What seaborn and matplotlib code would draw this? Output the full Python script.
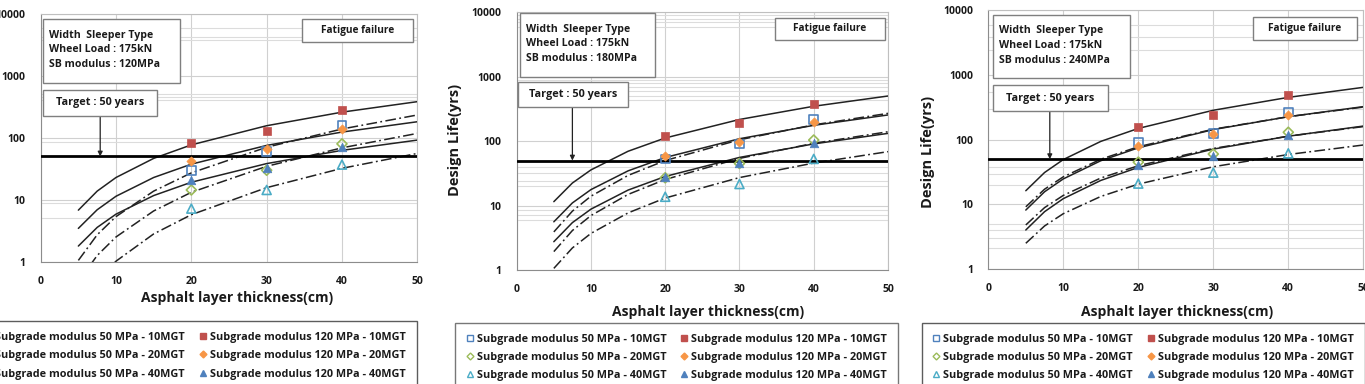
import matplotlib
matplotlib.use("Agg")
import matplotlib.pyplot as plt
from matplotlib.lines import Line2D
from matplotlib.patches import Rectangle
import seaborn as sns

W, H = 1365, 384

# ---- data ----
thickness = [20, 30, 40]
curve_x = [5, 7.5, 10, 15, 20, 30, 40, 50]
series = [
    "Subgrade modulus 50 MPa - 10MGT",
    "Subgrade modulus 50 MPa - 20MGT",
    "Subgrade modulus 50 MPa - 40MGT",
    "Subgrade modulus 120 MPa - 10MGT",
    "Subgrade modulus 120 MPa - 20MGT",
    "Subgrade modulus 120 MPa - 40MGT",
]
sb_moduli = ["120MPa", "180MPa", "240MPa"]
target_life = 50
yticks = [1, 10, 100, 1000, 10000]
xticks = [0, 10, 20, 30, 40, 50]

life_sb120 = [[30, 60, 162], [14.4, 30, 80], [7.2, 14.4, 37],
              [84, 130, 282], [42, 67, 140], [21, 32, 70]]
life_sb180 = [[53, 90, 218], [27, 45, 104], [13.7, 21.6, 53],
              [121, 192, 382], [58, 97, 195], [28, 46, 93]]
life_sb240 = [[90, 125, 267], [45, 60, 130], [21, 31, 61.5],
              [159, 240, 489], [80, 122, 240], [40, 56, 118]]

trend_sb120 = [[1.05, 2.72, 5.35, 13.8, 27.2, 70.5, 139, 234],
               [0.48, 1.26, 2.51, 6.6, 13.2, 34.7, 69, 118],
               [0.18, 0.5, 1.02, 2.81, 5.74, 15.7, 32.2, 56],
               [6.8, 13.8, 22.9, 46.6, 77, 157, 260, 384],
               [3.45, 6.9, 11.4, 22.9, 37.6, 75.5, 124, 182],
               [1.79, 3.58, 5.86, 11.7, 19.2, 38.4, 62.8, 92]]
trend_sb180 = [[3.9, 8.2, 14, 29.4, 50, 105, 179, 270],
               [1.93, 4.1, 7.0, 14.9, 25.4, 54, 92.5, 140],
               [1.06, 2.2, 3.7, 7.7, 13.1, 27.2, 45.7, 68.7],
               [11.5, 22.4, 35.8, 69.7, 112, 217, 348, 502],
               [5.6, 11, 17.7, 34.6, 55.8, 109, 176, 255],
               [2.75, 5.44, 8.8, 17.4, 28.3, 55.9, 90.6, 132]]
trend_sb240 = [[9.2, 17.2, 26.7, 49.9, 77.7, 145, 226, 318],
               [4.83, 8.94, 13.8, 25.6, 39.6, 73.2, 113, 159],
               [2.52, 4.66, 7.21, 13.3, 20.6, 38.2, 59, 82.7],
               [16.3, 31.1, 49.3, 94, 149, 284, 449, 641],
               [8.2, 15.7, 24.8, 47.3, 74.8, 143, 226, 323],
               [4.04, 7.74, 12.3, 23.5, 37.3, 71.5, 113, 162]]

# ---- styles ----
markers = ["s", "D", "^", "s", "D", "^"]
colors = ["#4F81BD", "#9BBB59", "#4BACC6", "#C0504D", "#F79646", "#4F81BD"]
hollow = [True, True, True, False, False, False]
sizes = [38, 26, 42, 38, 22, 38]
dashdot = (0, (7, 2.2, 1.2, 2.2))

# pixel layout of each screenshot (x0, y0, x1, y1 from top-left)
panels = [
    dict(ax=(40.7, 14, 417.3, 261.7), info=(43, 19, 180, 83), fat=(302, 19, 413, 42),
         tgt=(43, 90, 157, 116), arrow=7.9, leg=(416.7, 321, "upper right"),
         xlab=(237, 298), ylab=None, legc="#333333",
         minor=[6000, 4300, 3800, 520, 460, 410, 87, 9, 5]),
    dict(ax=(516.7, 12.3, 888, 270), info=(520, 13, 655, 77), fat=(775, 18, 885, 40),
         tgt=(518, 82, 628, 107), arrow=7.5, leg=(455, 322.7, "upper left"),
         xlab=(708, 311.7), ylab=(455, 140), legc="#555555",
         minor=[9000, 8000, 7000, 6000, 900, 800, 700, 600, 500, 430,
                40, 32, 24, 20, 8.5, 7.1, 6]),
    dict(ax=(988.3, 10, 1363.3, 269.3), info=(993, 15, 1130, 78), fat=(1253, 17, 1357, 40),
         tgt=(993, 85, 1108, 111), arrow=8.2, leg=(921.7, 322.7, "upper left"),
         xlab=(1177, 311.7), ylab=(928, 152), legc="#333333",
         minor=[5900, 3900, 2400, 550, 300, 38, 30, 20, 5, 4, 3, 2.1]),
]
life_all = [life_sb120, life_sb180, life_sb240]
trend_all = [trend_sb120, trend_sb180, trend_sb240]

sns.set_style("white")
plt.rcParams["font.family"] = ["Open Sans", "DejaVu Sans"]
plt.rcParams["font.weight"] = "bold"
TXT = "#1a1a1a"


def fx(px):
    return px / W


def fy(py):
    return 1 - py / H


fig = plt.figure(figsize=(W / 100, H / 100), dpi=100)

for p, sb, life, trend in zip(panels, sb_moduli, life_all, trend_all):
    x0, y0, x1, y1 = p["ax"]
    ax = fig.add_axes([fx(x0), fy(y1), (x1 - x0) / W, (y1 - y0) / H])
    ax.set_yscale("log")

    for i in range(6):
        ls = "-" if i >= 3 else dashdot
        sns.lineplot(x=curve_x, y=trend[i], ax=ax, color="#222222", lw=1.1,
                     linestyle=ls, zorder=3, legend=False)
    for i in range(6):
        if hollow[i]:
            sns.scatterplot(x=thickness, y=life[i], ax=ax, marker=markers[i],
                            s=sizes[i], facecolor="none", edgecolor=colors[i],
                            linewidth=1.2, zorder=4, legend=False)
        else:
            sns.scatterplot(x=thickness, y=life[i], ax=ax, marker=markers[i],
                            s=sizes[i], color=colors[i], edgecolor=colors[i],
                            linewidth=0.5, zorder=4, legend=False)
    ax.axhline(target_life, color="black", lw=2.0, zorder=3)

    ax.set_xlim(0, 50)
    ax.set_ylim(1, 10000)
    ax.set_xticks(xticks)
    ax.set_xticklabels([str(t) for t in xticks])
    ax.set_yticks(yticks)
    ax.set_yticklabels([str(t) for t in yticks])
    ax.set_yticks(p["minor"], minor=True)
    ax.yaxis.set_minor_formatter(plt.NullFormatter())
    ax.tick_params(axis="both", which="major", labelsize=7.5, colors=TXT, length=0)
    ax.tick_params(axis="y", pad=11)
    ax.tick_params(axis="x", pad=10)
    ax.tick_params(which="minor", length=0)
    for lab in ax.get_xticklabels() + ax.get_yticklabels():
        lab.set_fontweight("bold")
    ax.grid(True, which="major", color="#d0d0d0", lw=0.8)
    ax.grid(True, which="minor", axis="y", color="#dcdcdc", lw=0.8)
    for s in ax.spines.values():
        s.set_color("#bfbfbf")
        s.set_linewidth(0.8)
    ax.spines["left"].set_color("#8c8c8c")
    ax.spines["bottom"].set_color("#8c8c8c")
    ax.set_xlabel("")
    ax.set_ylabel("")

    # x label / y label
    fig.text(fx(p["xlab"][0]), fy(p["xlab"][1]), "Asphalt layer thickness(cm)",
             ha="center", va="center", fontsize=10, fontweight="bold", color=TXT)
    if p["ylab"] is not None:
        fig.text(fx(p["ylab"][0]), fy(p["ylab"][1]), "Design Life(yrs)",
                 ha="center", va="center", rotation=90, fontsize=10.5,
                 fontweight="bold", color=TXT)

    # annotation boxes
    for key in ("info", "fat", "tgt"):
        bx0, by0, bx1, by1 = p[key]
        fig.add_artist(Rectangle((fx(bx0), fy(by1)), (bx1 - bx0) / W, (by1 - by0) / H,
                                 transform=fig.transFigure, facecolor="white",
                                 edgecolor="#7f7f7f", lw=1.0, zorder=5))
    bx0, by0, bx1, by1 = p["info"]
    fig.text(fx(bx0 + 6), fy((by0 + by1) / 2 - 1),
             "Width  Sleeper Type\nWheel Load : 175kN\nSB modulus : " + sb,
             ha="left", va="center", fontsize=7.6, fontweight="bold", color=TXT,
             linespacing=1.45, zorder=6)
    bx0, by0, bx1, by1 = p["fat"]
    fig.text(fx((bx0 + bx1) / 2), fy((by0 + by1) / 2), "Fatigue failure",
             ha="center", va="center", fontsize=7.3, fontweight="bold", color=TXT, zorder=6)
    bx0, by0, bx1, by1 = p["tgt"]
    fig.text(fx((bx0 + bx1) / 2), fy((by0 + by1) / 2), "Target : 50 years",
             ha="center", va="center", fontsize=7.8, fontweight="bold", color=TXT, zorder=6)
    ax.annotate("", xy=(p["arrow"], target_life), xycoords="data",
                xytext=(p["arrow"], fy(by1)), textcoords=("data", "figure fraction"),
                arrowprops=dict(arrowstyle="-|>", color="#222222", lw=0.9,
                                mutation_scale=7, shrinkA=0, shrinkB=0), zorder=4)

    # legend
    handles = []
    for i in range(6):
        handles.append(Line2D([], [], ls="none", marker=markers[i],
                              mfc="none" if hollow[i] else colors[i], mec=colors[i],
                              mew=1.0, ms=4.5 if markers[i] != "D" else 3.5))
    lx, ly, lloc = p["leg"]
    leg = fig.legend(handles, series, ncol=2, loc=lloc, bbox_to_anchor=(fx(lx), fy(ly)),
                     frameon=True, fancybox=False, borderaxespad=0,
                     handlelength=0.7, handletextpad=0.3, columnspacing=1.3,
                     labelspacing=0.68, borderpad=1.0, prop={"weight": "bold", "size": 7.8})
    leg.get_frame().set_edgecolor(p["legc"])
    leg.get_frame().set_linewidth(1.0)
    for t in leg.get_texts():
        t.set_color(TXT)

fig.savefig("out.png", dpi=100)
